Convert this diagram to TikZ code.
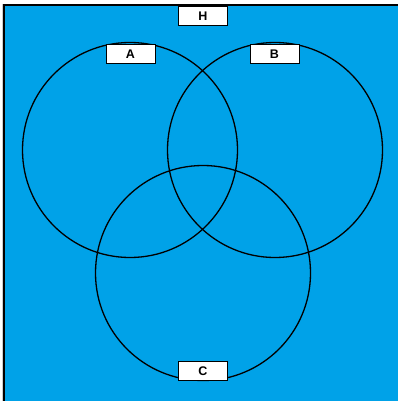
\documentclass[tikz,border=0pt]{standalone}
\usepackage{fontspec}
\setmainfont{Liberation Sans}
\usepackage{xcolor}
\definecolor{skyblue}{RGB}{0,162,232}

\begin{document}
\begin{tikzpicture}[
  x=1pt, y=-1pt,
  font=\fontsize{12.5}{14}\selectfont\bfseries,
  set/.style={draw, circle, line width=1.3pt, minimum size=215pt, inner sep=0pt},
  tag/.style={draw, fill=white, line width=0.9pt, minimum width=49pt, minimum height=19pt, inner sep=0pt}
]
  \useasboundingbox (0,0) rectangle (398,401);
  \fill[gray!40] (1.5,4) rectangle (4,401);
  \filldraw[fill=skyblue, draw=black, line width=1.2pt] (4,5) rectangle (402,405);

  \node[set] (s_a) at (130,150) {};
  \node[set] (s_b) at (275,150) {};
  \node[set] (s_c) at (203,273) {};

  \node[tag] (t_h) at (203,16) {H};
  \node[tag] (t_a) at (130.5,54) {A};
  \node[tag] (t_b) at (274.5,54) {B};
  \node[tag] (t_c) at (203,371) {C};
\end{tikzpicture}
\end{document}
